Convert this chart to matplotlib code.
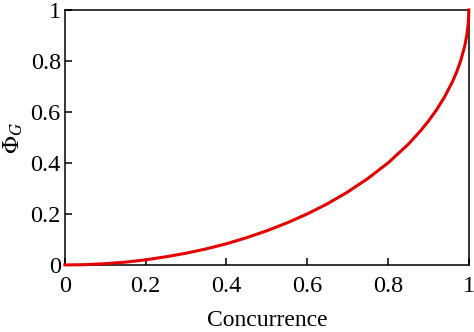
import matplotlib
matplotlib.use('Agg')

import matplotlib.pyplot as plt
from matplotlib.ticker import FuncFormatter

# geometric measure vs. concurrence
concurrence = [0.0, 0.05, 0.1, 0.15, 0.2, 0.25, 0.3, 0.35, 0.4, 0.45, 0.5,
               0.55, 0.6, 0.65, 0.7, 0.75, 0.8, 0.85, 0.88, 0.9, 0.92, 0.94,
               0.96, 0.97, 0.98, 0.99, 0.995, 0.998, 0.9995, 1.0]
phi_g = [0.0, 0.001, 0.005, 0.011, 0.020, 0.032, 0.046, 0.063, 0.083, 0.107,
         0.134, 0.165, 0.200, 0.240, 0.286, 0.339, 0.400, 0.473, 0.525, 0.564,
         0.608, 0.659, 0.720, 0.757, 0.801, 0.859, 0.900, 0.937, 0.968, 1.0]

ticks = [0, 0.2, 0.4, 0.6, 0.8, 1]

plt.rcParams['font.family'] = ['Liberation Serif', 'DejaVu Serif']
plt.rcParams['mathtext.fontset'] = 'stix'

fig = plt.figure(figsize=(4.74, 3.32), dpi=100)
ax = fig.add_axes([0.137, 0.202, 0.852, 0.768])

ax.plot(concurrence, phi_g, color='#e50000', lw=2.2, clip_on=False, zorder=3)

ax.set_xlim(0, 1)
ax.set_ylim(0, 1)
ax.set_xticks(ticks)
ax.set_yticks(ticks)
fmt = FuncFormatter(lambda v, pos: '%g' % v)
ax.xaxis.set_major_formatter(fmt)
ax.yaxis.set_major_formatter(fmt)
ax.tick_params(direction='in', length=5, width=1.1, top=False, right=False,
               labelsize=17.5)
ax.tick_params(axis='x', pad=8)
ax.tick_params(axis='y', pad=3)
for s in ax.spines.values():
    s.set_linewidth(1.1)

ax.set_xlabel('Concurrence', fontsize=17, labelpad=9)
ax.set_ylabel(r'$\Phi_G$', fontsize=17, labelpad=4)

fig.savefig('out.png', dpi=100)
